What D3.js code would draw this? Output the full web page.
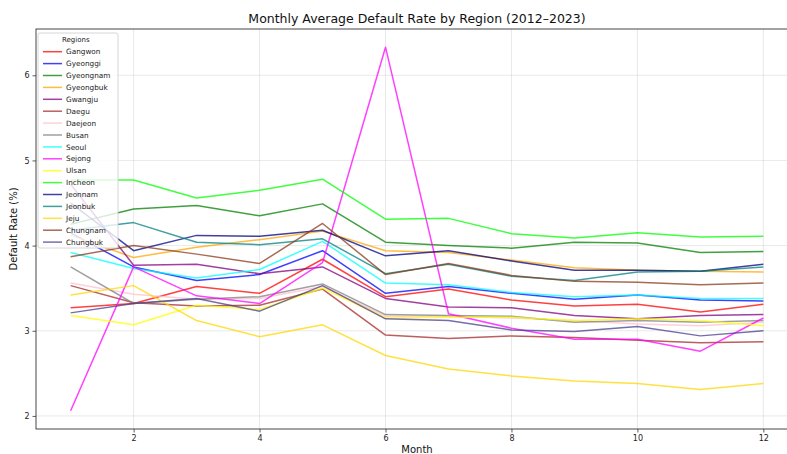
<!DOCTYPE html>
<html>
<head>
<meta charset="utf-8">
<script src="https://cdn.jsdelivr.net/npm/d3@7"></script>
<style>
  body { margin: 0; background: #fff; }
  text { font-family: "DejaVu Sans", sans-serif; }
</style>
</head>
<body>
<div id="root"></div>
<script>
var months = [1, 2, 3, 4, 5, 6, 7, 8, 9, 10, 11, 12];
var regions = ['Gangwon', 'Gyeonggi', 'Gyeongnam', 'Gyeongbuk', 'Gwangju', 'Daegu', 'Daejeon', 'Busan',
  'Seoul', 'Sejong', 'Ulsan', 'Incheon', 'Jeonnam', 'Jeonbuk', 'Jeju', 'Chungnam', 'Chungbuk'];
var colors = ['red', 'blue', 'green', 'orange', 'purple', 'brown', 'pink', 'gray',
  'cyan', 'magenta', 'yellow', 'lime', 'navy', 'teal', 'gold', '#8b3a1a', 'darkslateblue'];

var gangwon   = [3.27, 3.32, 3.52, 3.44, 3.84, 3.40, 3.49, 3.36, 3.29, 3.31, 3.22, 3.31];
var gyeonggi  = [4.15, 3.75, 3.59, 3.66, 3.94, 3.44, 3.52, 3.44, 3.37, 3.42, 3.36, 3.35];
var gyeongnam = [4.25, 4.43, 4.47, 4.35, 4.49, 4.04, 4.00, 3.97, 4.04, 4.03, 3.92, 3.93];
var gyeongbuk = [4.12, 3.86, 3.98, 4.07, 4.17, 3.94, 3.92, 3.83, 3.74, 3.71, 3.70, 3.69];
var gwangju   = [4.72, 3.77, 3.78, 3.67, 3.75, 3.38, 3.28, 3.27, 3.18, 3.14, 3.18, 3.19];
var daegu     = [3.53, 3.33, 3.29, 3.30, 3.49, 2.95, 2.91, 2.94, 2.92, 2.89, 2.86, 2.87];
var daejeon   = [3.56, 3.43, 3.37, 3.38, 3.52, 3.17, 3.17, 3.15, 3.12, 3.08, 3.06, 3.10];
var busan     = [3.75, 3.32, 3.37, 3.40, 3.55, 3.19, 3.18, 3.17, 3.10, 3.12, 3.10, 3.12];
var seoul     = [3.92, 3.73, 3.62, 3.72, 4.05, 3.56, 3.54, 3.45, 3.40, 3.42, 3.38, 3.38];
var sejong    = [2.06, 3.75, 3.41, 3.32, 3.80, 6.33, 3.20, 3.03, 2.90, 2.90, 2.76, 3.15];
var ulsan     = [3.18, 3.07, 3.30, 3.25, 3.50, 3.15, 3.16, 3.16, 3.12, 3.14, 3.12, 3.06];
var incheon   = [4.77, 4.77, 4.56, 4.65, 4.78, 4.31, 4.32, 4.14, 4.09, 4.15, 4.10, 4.11];
var jeonnam   = [4.50, 3.94, 4.12, 4.11, 4.18, 3.88, 3.94, 3.82, 3.71, 3.71, 3.70, 3.78];
var jeonbuk   = [4.18, 4.27, 4.04, 4.01, 4.08, 3.67, 3.78, 3.64, 3.59, 3.69, 3.70, 3.75];
var jeju      = [3.42, 3.53, 3.12, 2.93, 3.07, 2.71, 2.55, 2.47, 2.41, 2.38, 2.31, 2.38];
var chungnam  = [3.87, 4.00, 3.90, 3.79, 4.26, 3.66, 3.79, 3.65, 3.58, 3.57, 3.54, 3.56];
var chungbuk  = [3.21, 3.32, 3.38, 3.23, 3.53, 3.14, 3.12, 3.01, 2.99, 3.05, 2.94, 3.00];

var values = [gangwon, gyeonggi, gyeongnam, gyeongbuk, gwangju, daegu, daejeon, busan,
  seoul, sejong, ulsan, incheon, jeonnam, jeonbuk, jeju, chungnam, chungbuk];
var xTicks = [2, 4, 6, 8, 10, 12];
var yTicks = [2, 3, 4, 5, 6];

var w = 787, h = 454;
var padL = 36, padT = 29, padR = 798, padB = 429;

var series = regions.map(function(name, i) {
  return { name: name, color: colors[i], values: values[i] };
});

var xMin = d3.min(months), xMax = d3.max(months);
var xPad = (xMax - xMin) * 0.05;
var allVals = d3.merge(values);
var yMin = d3.min(allVals), yMax = d3.max(allVals);
var yPad = (yMax - yMin) * 0.05;

var x = d3.scaleLinear().domain([xMin - xPad, xMax + xPad]).range([padL, padR]);
var y = d3.scaleLinear().domain([yMin - yPad, yMax + yPad]).range([padB, padT]);

var svg = d3.select('#root').append('svg')
  .attr('width', w)
  .attr('height', h);

// grid
var grid = svg.append('g').attr('id', 'grid');
grid.selectAll('line.gx')
  .data(xTicks)
  .enter()
  .append('line')
  .attr('x1', function(d) { return x(d); })
  .attr('x2', function(d) { return x(d); })
  .attr('y1', padT)
  .attr('y2', padB)
  .attr('stroke', '#b0b0b0')
  .attr('stroke-opacity', 0.35)
  .attr('stroke-width', 0.8);
grid.selectAll('line.gy')
  .data(yTicks)
  .enter()
  .append('line')
  .attr('x1', padL)
  .attr('x2', padR)
  .attr('y1', function(d) { return y(d); })
  .attr('y2', function(d) { return y(d); })
  .attr('stroke', '#b0b0b0')
  .attr('stroke-opacity', 0.35)
  .attr('stroke-width', 0.8);

// lines
var line = d3.line()
  .x(function(d, i) { return x(months[i]); })
  .y(function(d) { return y(d); });

svg.append('g')
  .attr('id', 'lines')
  .selectAll('path')
  .data(series)
  .enter()
  .append('path')
  .attr('d', function(d) { return line(d.values); })
  .attr('fill', 'none')
  .attr('stroke', function(d) { return d.color; })
  .attr('stroke-opacity', 0.75)
  .attr('stroke-width', 1.5)
  .attr('stroke-linejoin', 'round');

// axes
var xAxis = svg.append('g')
  .attr('transform', 'translate(0,' + padB + ')')
  .call(d3.axisBottom(x).tickValues(xTicks).tickSize(3.5).tickPadding(3));
var yAxis = svg.append('g')
  .attr('transform', 'translate(' + padL + ',0)')
  .call(d3.axisLeft(y).tickValues(yTicks).tickFormat(d3.format('d')).tickSize(3.5).tickPadding(3));
[xAxis, yAxis].forEach(function(a) {
  a.select('.domain').remove();
  a.selectAll('line').attr('stroke', '#333').attr('stroke-width', 0.8);
  a.selectAll('text').attr('font-size', 8).attr('fill', '#222')
    .attr('font-family', '"DejaVu Sans", sans-serif');
});

// spines
svg.append('rect')
  .attr('x', padL)
  .attr('y', padT)
  .attr('width', padR - padL)
  .attr('height', padB - padT)
  .attr('fill', 'none')
  .attr('stroke', '#333')
  .attr('stroke-width', 0.9);

// title and labels
svg.append('text')
  .text('Monthly Average Default Rate by Region (2012–2023)')
  .attr('x', (padL + padR) / 2)
  .attr('y', 23)
  .attr('text-anchor', 'middle')
  .attr('font-size', 12.5)
  .attr('fill', '#111');
svg.append('text')
  .text('Month')
  .attr('x', (padL + padR) / 2)
  .attr('y', 453)
  .attr('text-anchor', 'middle')
  .attr('font-size', 10)
  .attr('fill', '#111');
svg.append('text')
  .text('Default Rate (%)')
  .attr('transform', 'translate(17,' + (padT + padB) / 2 + ') rotate(-90)')
  .attr('text-anchor', 'middle')
  .attr('font-size', 10)
  .attr('fill', '#111');

// legend
var lg = svg.append('g').attr('id', 'legend');
var lgX = 38, lgY = 33, lgW = 80, rowH = 11.9;
lg.append('rect')
  .attr('x', lgX)
  .attr('y', lgY)
  .attr('width', lgW)
  .attr('height', 215)
  .attr('rx', 2)
  .attr('fill', '#fff')
  .attr('fill-opacity', 0.8)
  .attr('stroke', '#ccc')
  .attr('stroke-width', 0.8);
lg.append('text')
  .text('Regions')
  .attr('x', lgX + 24)
  .attr('y', lgY + 9)
  .attr('font-size', 7)
  .attr('fill', '#222');
var items = lg.selectAll('g.item')
  .data(series)
  .enter()
  .append('g')
  .attr('transform', function(d, i) {
    return 'translate(' + lgX + ',' + (lgY + 18.7 + i * rowH) + ')';
  });
items.append('line')
  .attr('x1', 5)
  .attr('x2', 24)
  .attr('y1', 0)
  .attr('y2', 0)
  .attr('stroke', function(d) { return d.color; })
  .attr('stroke-opacity', 0.75)
  .attr('stroke-width', 1.5);
items.append('text')
  .text(function(d) { return d.name; })
  .attr('x', 28)
  .attr('y', 2.6)
  .attr('font-size', 7.3)
  .attr('fill', '#222');
</script>
</body>
</html>
